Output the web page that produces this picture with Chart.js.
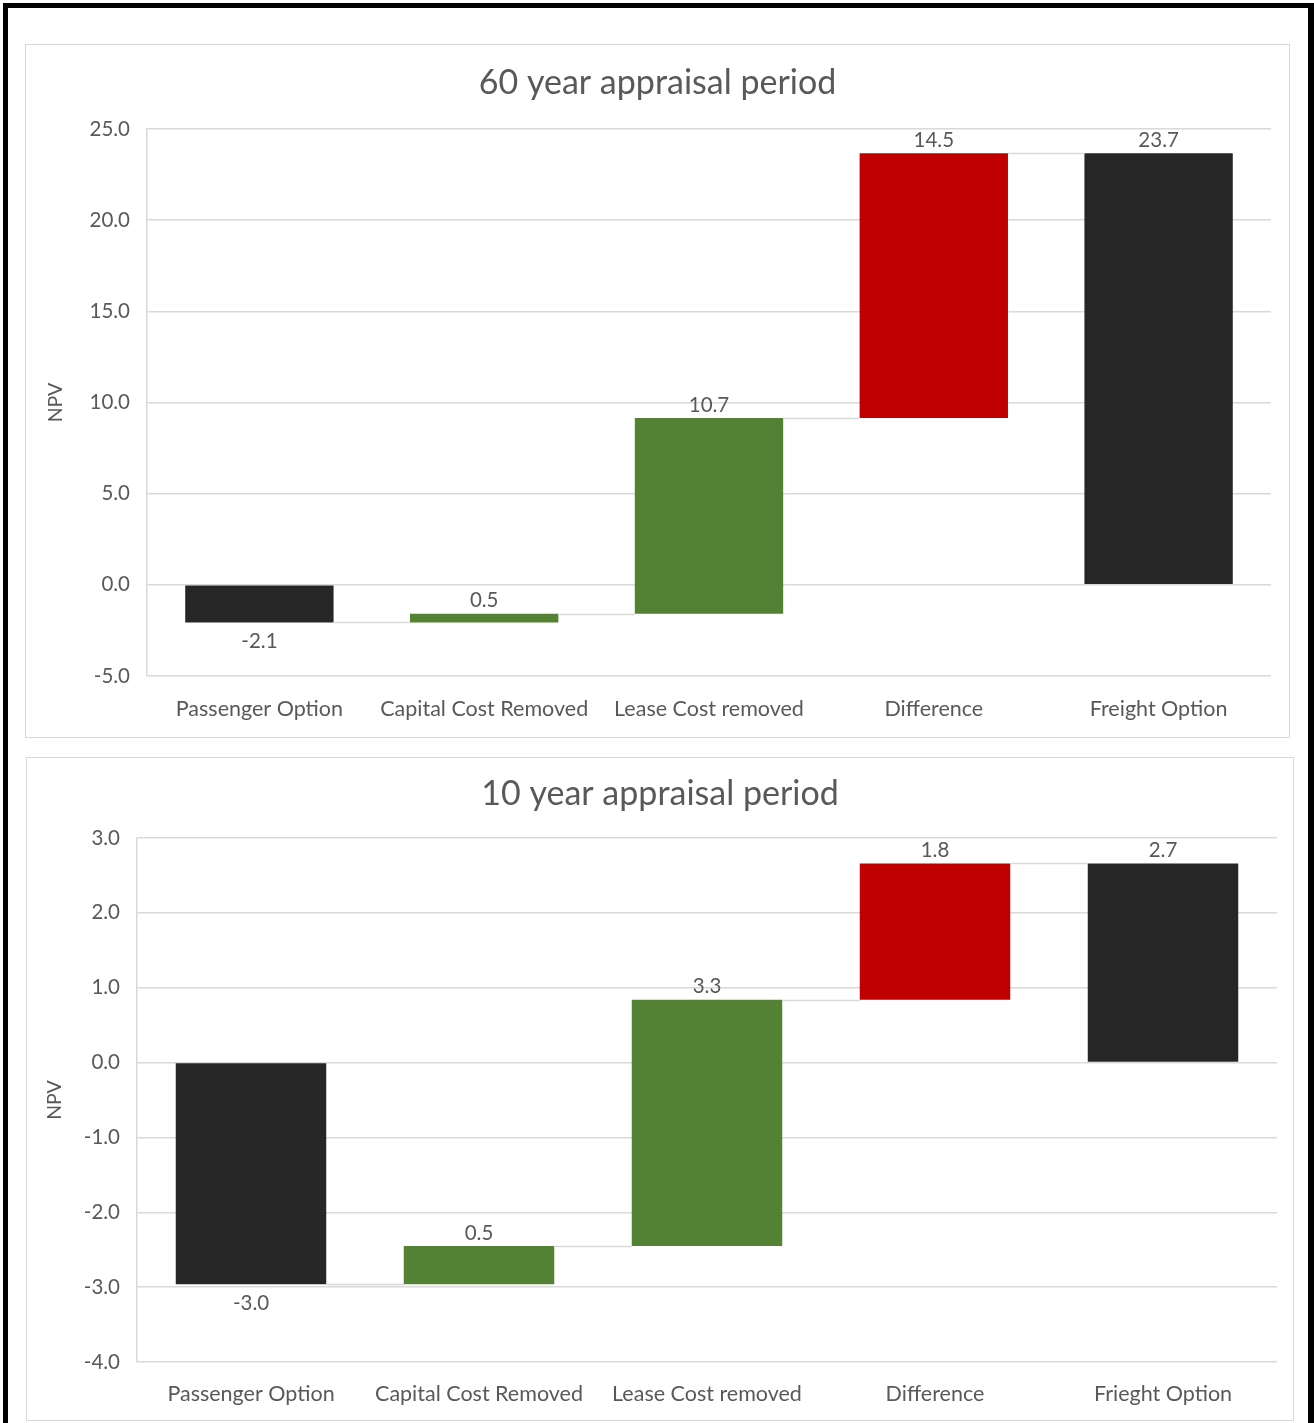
<!DOCTYPE html>
<html>
<head>
<meta charset="utf-8">
<script src="https://cdn.jsdelivr.net/npm/chart.js@4.4.1/dist/chart.umd.min.js"></script>
<style>
  html, body { margin: 0; padding: 0; background: #ffffff; }
  body { width: 1314px; height: 1423px; position: relative; overflow: hidden; }
  .frame { position: absolute; left: 3px; top: 3px; width: 1311px; height: 1440px;
           border: 5px solid #000; border-right-width: 6px; box-sizing: border-box; }
  .panel { position: absolute; border: 1px solid #d9d9d9; box-sizing: border-box; background: #fff; }
  .panel canvas { position: absolute; left: 0; top: 0; }
</style>
</head>
<body>
<div class="frame"></div>
<div class="panel" style="left:25px; top:44px; width:1265px; height:694px;">
  <canvas id="chart60" width="1263" height="692"></canvas>
</div>
<div class="panel" style="left:26px; top:757px; width:1268px; height:664px;">
  <canvas id="chart10" width="1266" height="662"></canvas>
</div>
<script>
// Waterfall steps: totals start at zero, increases start at the running total.
const categories60 = ['Passenger Option', 'Capital Cost Removed', 'Lease Cost removed', 'Difference', 'Freight Option'];
const categories10 = ['Passenger Option', 'Capital Cost Removed', 'Lease Cost removed', 'Difference', 'Frieght Option'];
const barKinds = ['total', 'increase', 'increase', 'increase', 'total'];
const npv60 = [-2.06, 0.47, 10.74, 14.52, 23.67];
const npv10 = [-2.96, 0.51, 3.29, 1.82, 2.66];
const yTicks60 = [-5, 0, 5, 10, 15, 20, 25];
const yTicks10 = [-4, -3, -2, -1, 0, 1, 2, 3];
const barColors = ['#262626', '#548235', '#548235', '#C00000', '#262626'];

const FONT = 'Lato, "Open Sans", sans-serif';
const TEXT = '#595959';
const GRID = '#d9d9d9';

function floatingBars(values, kinds) {
  let running = 0;
  return values.map((v, i) => {
    if (kinds[i] === 'total') { running = v; return [0, v]; }
    const start = running;
    running = start + v;
    return [start, running];
  });
}

// Thin connectors between consecutive bars and the value labels.
const waterfallDecor = {
  id: 'waterfallDecor',
  afterDatasetsDraw(chart, args, opts) {
    const { ctx } = chart;
    const y = chart.scales.y;
    const meta = chart.getDatasetMeta(0);
    const ranges = chart.data.datasets[0].data;
    const values = opts.values;
    ctx.save();
    ctx.strokeStyle = GRID;
    ctx.lineWidth = 1.5;
    for (let i = 0; i < ranges.length - 1; i++) {
      const level = ranges[i][1];
      const a = meta.data[i], b = meta.data[i + 1];
      const py = Math.round(y.getPixelForValue(level)) + 0.5;
      ctx.beginPath();
      ctx.moveTo(a.x + a.width / 2, py);
      ctx.lineTo(b.x - b.width / 2, py);
      ctx.stroke();
    }
    ctx.fillStyle = TEXT;
    ctx.font = '20.5px ' + FONT;
    ctx.textAlign = 'center';
    ctx.textBaseline = 'middle';
    ranges.forEach((r, i) => {
      const el = meta.data[i];
      const v = values[i];
      const hi = Math.max(r[0], r[1]);
      const lo = Math.min(r[0], r[1]);
      const ty = v < 0 ? y.getPixelForValue(lo) + 19 : y.getPixelForValue(hi) - 13;
      ctx.fillText(v.toFixed(1), el.x, ty);
    });
    ctx.restore();
  }
};

function buildChart(id, cfg) {
  const data = floatingBars(cfg.values, barKinds);
  return new Chart(document.getElementById(id), {
    type: 'bar',
    data: {
      labels: cfg.categories,
      datasets: [{
        data: data,
        backgroundColor: barColors,
        borderWidth: 0,
        barPercentage: 0.66,
        categoryPercentage: 1.0
      }]
    },
    options: {
      responsive: false,
      animation: false,
      events: [],
      layout: { padding: { top: 0, left: cfg.side, right: cfg.side, bottom: 0 } },
      plugins: {
        legend: { display: false },
        tooltip: { enabled: false },
        title: {
          display: true,
          text: cfg.title,
          color: TEXT,
          font: { family: FONT, size: 34, weight: 'normal' },
          padding: { top: cfg.titleTop, bottom: cfg.titleBottom }
        },
        waterfallDecor: { values: cfg.values }
      },
      scales: {
        x: {
          grid: { display: false, drawTicks: false },
          border: { display: false },
          ticks: { color: TEXT, font: { family: FONT, size: 21.5 }, padding: cfg.xPad, maxRotation: 0, autoSkip: false },
          afterFit(scale) { scale.height = cfg.xHeight; }
        },
        y: {
          min: cfg.ticks[0],
          max: cfg.ticks[cfg.ticks.length - 1],
          afterBuildTicks(scale) { scale.ticks = cfg.ticks.map(v => ({ value: v })); },
          grid: { color: GRID, lineWidth: 1.5, drawTicks: false },
          border: { display: true, color: GRID, width: 1.5 },
          ticks: {
            color: TEXT,
            font: { family: FONT, size: 20.5 },
            padding: 17,
            callback: v => Number(v).toFixed(1)
          },
          title: {
            display: true,
            text: 'NPV',
            color: TEXT,
            font: { family: FONT, size: 19.5 },
            padding: { top: cfg.npvPad, bottom: 0 }
          },
          afterFit(scale) { scale.width = cfg.yWidth; }
        }
      }
    },
    plugins: [waterfallDecor]
  });
}

buildChart('chart60', {
  categories: categories60, values: npv60, ticks: yTicks60,
  title: '60 year appraisal period',
  side: 18, yWidth: 103, xHeight: 61, xPad: 20.5,
  titleTop: 17.6, titleBottom: 25.6, npvPad: 0
});

buildChart('chart10', {
  categories: categories10, values: npv10, ticks: yTicks10,
  title: '10 year appraisal period',
  side: 16, yWidth: 94, xHeight: 58, xPad: 19,
  titleTop: 15.6, titleBottom: 23.6, npvPad: 0.3
});
</script>
</body>
</html>
